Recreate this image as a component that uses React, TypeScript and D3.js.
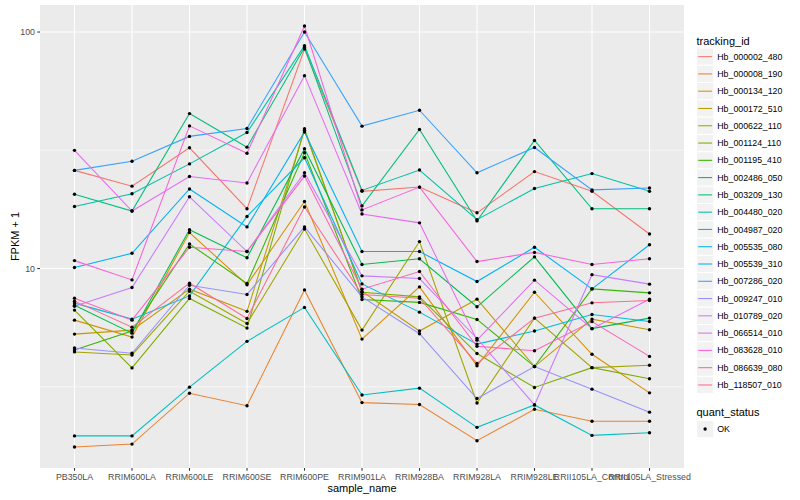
import React from 'react';
import * as d3 from 'd3';

// x categories
const sampleNames = [
  'PB350LA', 'RRIM600LA', 'RRIM600LE', 'RRIM600SE', 'RRIM600PE', 'RRIM901LA',
  'RRIM928BA', 'RRIM928LA', 'RRIM928LE', 'RRII105LA_Control', 'RRII105LA_Stressed',
];

const trackingIds = [
  'Hb_000002_480', 'Hb_000008_190', 'Hb_000134_120', 'Hb_000172_510', 'Hb_000622_110',
  'Hb_001124_110', 'Hb_001195_410', 'Hb_002486_050', 'Hb_003209_130', 'Hb_004480_020',
  'Hb_004987_020', 'Hb_005535_080', 'Hb_005539_310', 'Hb_007286_020', 'Hb_009247_010',
  'Hb_010789_020', 'Hb_066514_010', 'Hb_083628_010', 'Hb_086639_080', 'Hb_118507_010',
];

// FPKM + 1 per sample (same order as sampleNames)
const hb000002 = [26.0, 22.3, 32.4, 17.9, 84.8, 21.2, 22.1, 17.2, 25.7, 21.2, 14.0];
const hb000008 = [1.76, 1.81, 2.97, 2.63, 8.12, 2.71, 2.66, 1.87, 2.54, 2.26, 2.26];
const hb000134 = [6.05, 5.13, 14.2, 8.53, 19.2, 5.03, 8.36, 3.88, 7.94, 4.34, 2.98];
const hb000172 = [5.28, 5.49, 8.18, 6.59, 38.4, 8.0, 5.44, 7.42, 3.85, 6.11, 5.51];
const hb000622 = [4.44, 4.31, 8.02, 5.86, 14.7, 5.49, 13.0, 2.7, 6.17, 3.81, 3.9];
const hb001124 = [6.67, 3.8, 7.47, 5.6, 39.0, 7.94, 7.59, 4.37, 3.14, 3.81, 3.42];
const hb001195 = [4.52, 5.44, 12.7, 8.64, 30.9, 7.4, 7.19, 6.09, 3.85, 8.2, 7.89];
const hb002486 = [7.0, 5.33, 14.6, 11.1, 32.1, 10.4, 11.0, 6.89, 11.2, 5.57, 6.17];
const hb003209 = [20.6, 17.5, 45.2, 32.6, 86.1, 18.4, 38.7, 15.9, 34.8, 17.9, 17.9];
const hb004480 = [18.3, 20.7, 27.7, 37.6, 87.5, 21.4, 26.1, 16.1, 21.8, 25.2, 21.2];
const hb004987 = [1.96, 1.96, 3.15, 4.92, 6.85, 2.92, 3.12, 2.13, 2.65, 1.97, 2.02];
const hb005535 = [7.14, 6.11, 7.66, 16.6, 29.4, 8.61, 6.54, 4.79, 5.44, 6.39, 5.97];
const hb005539 = [10.1, 11.6, 21.7, 15.0, 37.8, 11.8, 11.8, 8.81, 12.3, 8.2, 12.6];
const hb007286 = [26.0, 28.4, 36.2, 39.1, 100, 40.0, 46.7, 25.4, 32.5, 21.5, 21.9];
const hb009247 = [4.61, 4.38, 8.5, 7.77, 15.0, 7.59, 5.3, 2.82, 3.85, 3.09, 2.47];
const hb010789 = [6.93, 8.31, 20.1, 11.8, 25.4, 9.31, 9.07, 5.06, 2.65, 9.42, 8.59];
const hb066514 = [31.6, 17.5, 24.5, 23.0, 65.4, 17.0, 15.6, 4.98, 8.93, 5.57, 7.42];
const hb083628 = [10.8, 8.95, 40.1, 30.7, 106, 17.7, 22.1, 10.7, 11.7, 10.4, 11.0];
const hb086639 = [7.49, 6.05, 12.3, 11.8, 24.6, 8.18, 9.71, 4.69, 4.49, 5.97, 4.25];
const hb118507 = [7.28, 5.65, 8.67, 6.15, 18.2, 7.77, 7.49, 3.97, 6.17, 7.16, 7.33];

const seriesValues = [
  hb000002, hb000008, hb000134, hb000172, hb000622, hb001124, hb001195, hb002486,
  hb003209, hb004480, hb004987, hb005535, hb005539, hb007286, hb009247, hb010789,
  hb066514, hb083628, hb086639, hb118507,
];

// ggplot hue palette, 20 levels
const hueColors = [
  '#F8766D', '#EA8331', '#D89000', '#C09B00', '#A3A500', '#7CAE00', '#39B600', '#00BB4E',
  '#00BF7D', '#00C1A3', '#00BFC4', '#00BAE0', '#00B0F6', '#35A2FF', '#9590FF', '#C77CFF',
  '#E76BF3', '#FA62DB', '#FF62BC', '#FF6C91',
];

const W = 800;
const H = 500;
const panel = { left: 40, top: 5, right: 684, bottom: 468 };
const font = '"Liberation Sans", Arial, Helvetica, sans-serif';

const App: React.FC = () => {
  const x = d3.scalePoint<string>()
    .domain(sampleNames)
    .range([panel.left, panel.right])
    .padding(0.6);

  // log10 scale with ggplot-like 5% expansion in transformed space
  const all = seriesValues.flat();
  const l0 = Math.log10(d3.min(all)!);
  const l1 = Math.log10(d3.max(all)!);
  const pad = (l1 - l0) * 0.05;
  const y = d3.scaleLog()
    .domain([10 ** (l0 - pad), 10 ** (l1 + pad)])
    .range([panel.bottom, panel.top]);

  const [dMin, dMax] = y.domain();
  const majors = [1, 10, 100, 1000].filter(v => v >= dMin && v <= dMax);
  const minors = [10 ** 0.5, 10 ** 1.5, 10 ** 2.5].filter(v => v >= dMin && v <= dMax);

  const line = d3.line<number>()
    .x((_, i) => x(sampleNames[i])!)
    .y(d => y(d));

  const keyH = 17.28;
  const legendX = 696.5;
  const keyTop = 48;
  const statusTop = 420.4;

  return (
    <svg width={W} height={H} style={{ position: 'absolute', left: 0, top: 0, background: '#fff' }}
      fontFamily={font}>
      <rect x={panel.left} y={panel.top} width={panel.right - panel.left}
        height={panel.bottom - panel.top} fill="#EBEBEB" />

      {/* grid */}
      {minors.map(v => (
        <line key={'mn' + v} x1={panel.left} x2={panel.right} y1={y(v)} y2={y(v)}
          stroke="#fff" strokeWidth={0.55} />
      ))}
      {majors.map(v => (
        <line key={'mj' + v} x1={panel.left} x2={panel.right} y1={y(v)} y2={y(v)}
          stroke="#fff" strokeWidth={1.07} />
      ))}
      {sampleNames.map(s => (
        <line key={'gx' + s} x1={x(s)} x2={x(s)} y1={panel.top} y2={panel.bottom}
          stroke="#fff" strokeWidth={1.07} />
      ))}

      {/* lines */}
      {seriesValues.map((vals, i) => (
        <path key={'l' + i} d={line(vals)!} fill="none" stroke={hueColors[i]} strokeWidth={1.07} />
      ))}
      {/* points */}
      {seriesValues.map((vals, i) => vals.map((v, j) => (
        <circle key={`p${i}-${j}`} cx={x(sampleNames[j])} cy={y(v)} r={1.7} fill="#000" />
      )))}

      {/* y axis */}
      {majors.map(v => (
        <g key={'yt' + v}>
          <line x1={panel.left - 2.75} x2={panel.left} y1={y(v)} y2={y(v)} stroke="#333" strokeWidth={1.07} />
          <text x={panel.left - 5} y={y(v)} dy="0.35em" textAnchor="end" fontSize={8.8} fill="#4D4D4D">
            {v}
          </text>
        </g>
      ))}
      <text transform={`translate(15,${(panel.top + panel.bottom) / 2}) rotate(-90)`} textAnchor="middle"
        fontSize={11} fill="#000" dy="0.35em">
        FPKM + 1
      </text>

      {/* x axis */}
      {sampleNames.map(s => (
        <g key={'xt' + s}>
          <line x1={x(s)} x2={x(s)} y1={panel.bottom} y2={panel.bottom + 2.75} stroke="#333" strokeWidth={1.07} />
          <text x={x(s)} y={panel.bottom + 12} textAnchor="middle" fontSize={8.8} fill="#4D4D4D">
            {s}
          </text>
        </g>
      ))}
      <text x={(panel.left + panel.right) / 2} y={492} textAnchor="middle" fontSize={11} fill="#000">
        sample_name
      </text>

      {/* legend: tracking_id */}
      <text x={legendX} y={44.5} fontSize={11} fill="#000">tracking_id</text>
      {trackingIds.map((id, i) => {
        const ky = keyTop + i * keyH;
        return (
          <g key={'lg' + id}>
            <rect x={legendX} y={ky} width={keyH} height={keyH} fill="#F2F2F2" stroke="#fff" strokeWidth={1} />
            <line x1={legendX + 1.7} x2={legendX + keyH - 1.7} y1={ky + keyH / 2} y2={ky + keyH / 2}
              stroke={hueColors[i]} strokeWidth={1.07} />
            <text x={legendX + keyH + 3.5} y={ky + keyH / 2} dy="0.35em" fontSize={8.8} fill="#000">{id}</text>
          </g>
        );
      })}

      {/* legend: quant_status */}
      <text x={legendX} y={statusTop - 4.5} fontSize={11} fill="#000">quant_status</text>
      <rect x={legendX} y={statusTop} width={keyH} height={keyH} fill="#F2F2F2" stroke="#fff" strokeWidth={1} />
      <circle cx={legendX + keyH / 2} cy={statusTop + keyH / 2} r={1.7} fill="#000" />
      <text x={legendX + keyH + 3.5} y={statusTop + keyH / 2} dy="0.35em" fontSize={8.8} fill="#000">OK</text>
    </svg>
  );
};

export default App;
